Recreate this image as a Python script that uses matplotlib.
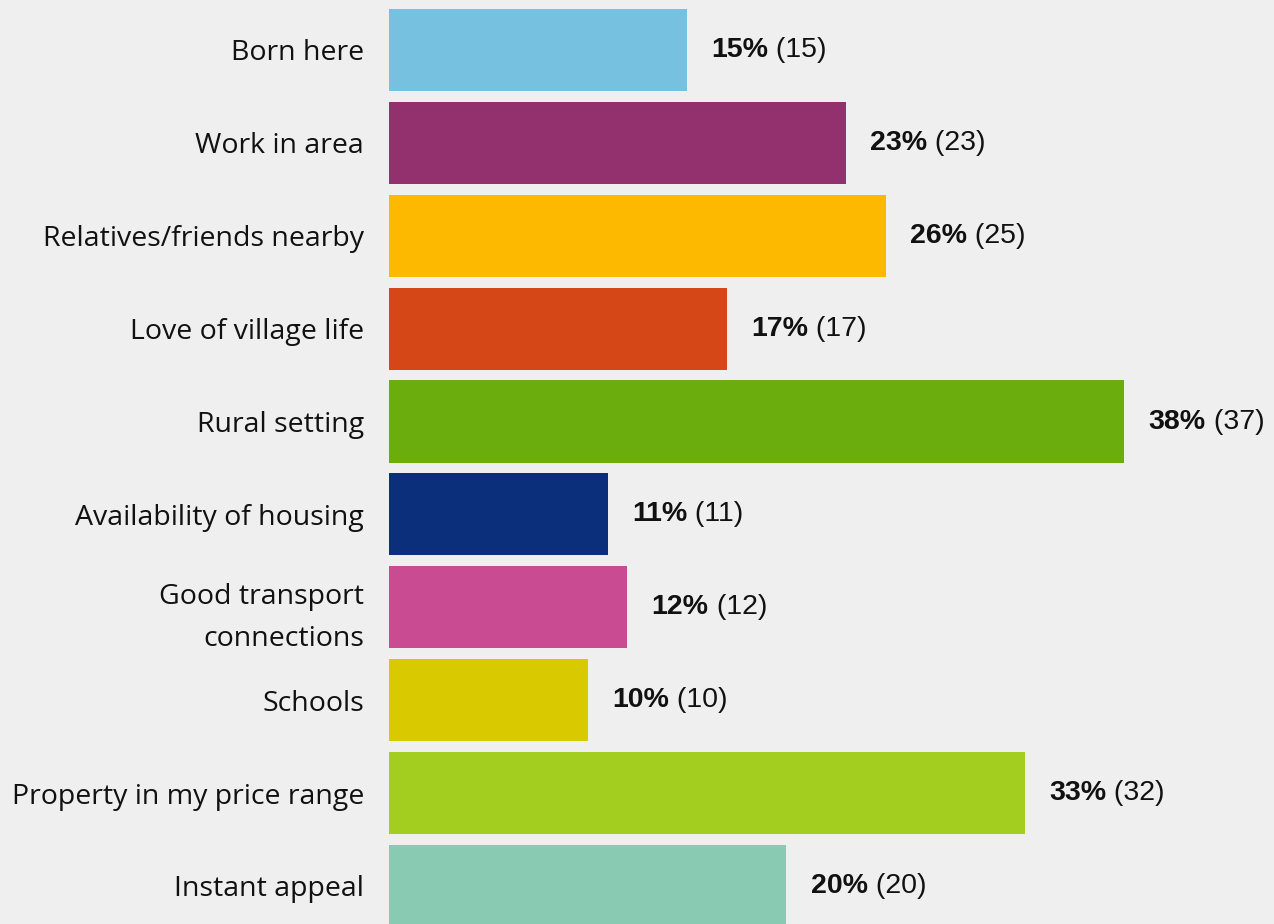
import matplotlib
matplotlib.use("Agg")
import matplotlib.pyplot as plt

categories = ["Born here", "Work in area", "Relatives/friends nearby",
              "Love of village life", "Rural setting", "Availability of housing",
              "Good transport\nconnections", "Schools", "Property in my price range",
              "Instant appeal"]
percents = [15, 23, 26, 17, 38, 11, 12, 10, 33, 20]
counts = [15, 23, 25, 17, 37, 11, 12, 10, 32, 20]
colors = ["#77C1E0", "#93306E", "#FDB900", "#D54716", "#6AAD0D",
          "#0C2F7B", "#C94C93", "#D9C900", "#A3CD1F", "#88CBB2"]

bg = "#EFEFEF"
fig = plt.figure(figsize=(12.74, 9.24), dpi=100, facecolor=bg)
ax = fig.add_axes([389/1274, 0, 1 - 389/1274, 1], facecolor=bg)

ypos = list(range(len(categories)))
ax.barh(ypos, counts, height=0.883, color=colors, left=0)
ax.set_xlim(0, 885/19.87)
ax.set_ylim(9.41, -0.538)

ax.set_yticks(ypos)
ax.set_yticklabels(categories, fontsize=20.5, family=["Open Sans", "DejaVu Sans"],
                   linespacing=1.7, color="#111111")
ax.tick_params(axis="y", length=0, pad=18)
ax.set_xticks([])
for s in ax.spines.values():
    s.set_visible(False)

for y, c, p in zip(ypos, counts, percents):
    t1 = ax.annotate(f"{p}%", xy=(c, y), xytext=(17.5, 0), textcoords="offset points",
                     va="center", ha="left", fontsize=20.5, fontweight="bold",
                     family="Liberation Sans", color="#111111")
    ax.annotate(f" ({c})", xy=(1, 0), xycoords=t1, va="bottom", ha="left",
                fontsize=20.5, family="Liberation Sans", color="#111111")

fig.savefig("out.png", dpi=100, facecolor=bg)
